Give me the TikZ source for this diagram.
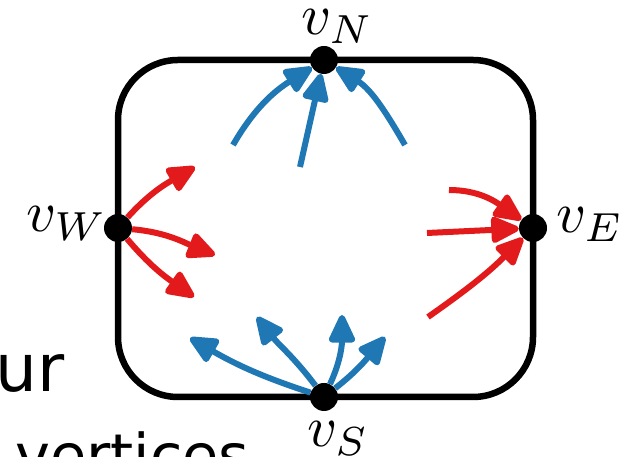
\documentclass[tikz,border=0pt]{standalone}
\usepackage{graphicx}
\usepackage{fontspec}
\newfontfamily\dejavu{DejaVu Sans}
\usetikzlibrary{arrows.meta}
\definecolor{mblue}{RGB}{31,119,180}
\definecolor{mred}{RGB}{227,26,28}
\newcommand{\biglab}[1]{\scalebox{5.8}{$#1$}}
\tikzset{
  box/.style={line width=6.5pt, rounded corners=60pt},
  vtx/.style={circle, fill=black, minimum size=28pt, inner sep=0pt},
  arr/.style={line width=6pt, -{Triangle[length=32pt,width=28pt,round]}},
  barr/.style={arr, draw=mblue},
  rarr/.style={arr, draw=mred},
  lab/.style={inner sep=0pt, anchor=base west},
  txt/.style={inner sep=0pt, anchor=base west}
}
\begin{document}
\begin{tikzpicture}[x=1pt,y=1pt]
\useasboundingbox (0,0) rectangle (627,457);
\clip (0,0) rectangle (627,457);
% texts on the left
\node[txt, font=\dejavu\fontsize{66}{72}\selectfont] (tur) at (-5,65) {ur};
\node[txt, font=\dejavu\fontsize{59}{66}\selectfont] (tvert) at (15,-20) {vertices};
% box
\draw[box] (118,60) rectangle (533,397);
% vertices
\node[vtx] (vN) at (324,397) {};
\node[vtx] (vW) at (118,229) {};
\node[vtx] (vE) at (533,229) {};
\node[vtx] (vS) at (324,60) {};
% labels
\node[lab] (lN) at (301,422) {\biglab{v_N}};
\node[lab] (lW) at (26,225) {\biglab{v_W}};
\node[lab] (lE) at (556,224) {\biglab{v_E}};
\node[lab] (lS) at (307,10) {\biglab{v_S}};
% free ends
\coordinate (n1) at (233,312);
\coordinate (n2) at (300,290);
\coordinate (n3) at (405,312);
\coordinate (w1) at (195,290);
\coordinate (w2) at (215,202);
\coordinate (w3) at (194,160);
\coordinate (e1) at (449,267);
\coordinate (e2) at (427,224);
\coordinate (e3) at (428,140);
\coordinate (s1) at (190,119);
\coordinate (s2) at (257,140);
\coordinate (s3) at (342,142);
\coordinate (s4) at (385,120);
% north (blue, incoming)
\draw[barr] (n1) to[out=60,in=212] (vN);
\draw[barr] (n2) -- (vN);
\draw[barr] (n3) to[out=120,in=-32] (vN);
% west (red, outgoing)
\draw[rarr] (vW) to[out=48,in=210] (w1);
\draw[rarr] (vW) to[out=-5,in=158] (w2);
\draw[rarr] (vW) to[out=-50,in=145] (w3);
% east (red, incoming)
\draw[rarr] (e1) to[out=0,in=145] (vE);
\draw[rarr] (e2) -- (vE);
\draw[rarr] (e3) to[out=35,in=225] (vE);
% south (blue, outgoing)
\draw[barr] (vS) to[out=162,in=-30] (s1);
\draw[barr] (vS) to[out=127,in=-52] (s2);
\draw[barr] (vS) to[out=65,in=-90] (s3);
\draw[barr] (vS) to[out=38,in=230] (s4);
\end{tikzpicture}
\end{document}
